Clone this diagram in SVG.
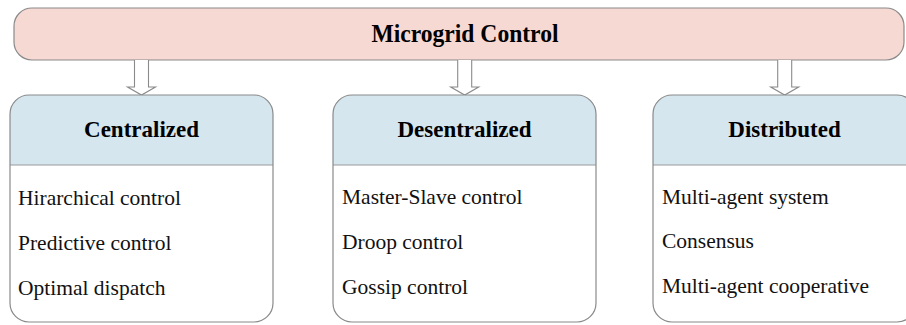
<svg xmlns="http://www.w3.org/2000/svg" width="906" height="325" viewBox="0 0 906 325">
<defs>
<style>
.bar{fill:#f7d9d4;stroke:#8a8a8a;stroke-width:1.2}
.hdr{fill:#d5e6ef}
.box{fill:none;stroke:#8a8a8a;stroke-width:1.2}
.div{stroke:#9a9a9a;stroke-width:1.2}
.arrow{fill:#ffffff;stroke:#8a8a8a;stroke-width:1.1;stroke-linejoin:miter}
.title{font-family:"Liberation Serif","Times New Roman",serif;font-weight:bold;font-size:26px;fill:#000;text-anchor:middle}
.head{font-family:"Liberation Serif","Times New Roman",serif;font-weight:bold;font-size:23px;fill:#000;text-anchor:middle}
.item{font-family:"Liberation Serif","Times New Roman",serif;font-size:21.5px;fill:#111}
</style>
<clipPath id="clipL"><rect x="10" y="95" width="263" height="227" rx="19"/></clipPath>
<clipPath id="clipM"><rect x="333" y="95" width="263" height="227" rx="19"/></clipPath>
<clipPath id="clipR"><rect x="653" y="95" width="263" height="227" rx="19"/></clipPath>
</defs>

<g id="microgrid-control">
<rect class="bar" x="14" y="8" width="890" height="52" rx="18"/>
<text class="title" x="465" y="42" textLength="187" lengthAdjust="spacingAndGlyphs">Microgrid Control</text>
</g>

<g id="connectors">
<path class="arrow" d="M134.5 60 V87 H127.5 L141.5 95 L155.5 87 H148.5 V60"/>
<path class="arrow" d="M457.7 60 V87 H450.7 L464.7 95 L478.7 87 H471.7 V60"/>
<path class="arrow" d="M777.7 60 V87 H770.7 L784.7 95 L798.7 87 H791.7 V60"/>
</g>

<g id="centralized">
<rect class="hdr" x="10" y="95" width="263" height="70" clip-path="url(#clipL)"/>
<line class="div" x1="10" y1="165" x2="273" y2="165"/>
<rect class="box" x="10" y="95" width="263" height="227" rx="19"/>
<text class="head" x="141.5" y="137">Centralized</text>
<text class="item" x="18" y="205">Hirarchical control</text>
<text class="item" x="18" y="250">Predictive control</text>
<text class="item" x="18" y="295">Optimal dispatch</text>
</g>

<g id="desentralized">
<rect class="hdr" x="333" y="95" width="263" height="70" clip-path="url(#clipM)"/>
<line class="div" x1="333" y1="165" x2="596" y2="165"/>
<rect class="box" x="333" y="95" width="263" height="227" rx="19"/>
<text class="head" x="464.5" y="137">Desentralized</text>
<text class="item" x="342" y="204">Master-Slave control</text>
<text class="item" x="342" y="249">Droop control</text>
<text class="item" x="342" y="294">Gossip control</text>
</g>

<g id="distributed">
<rect class="hdr" x="653" y="95" width="263" height="70" clip-path="url(#clipR)"/>
<line class="div" x1="653" y1="165" x2="916" y2="165"/>
<rect class="box" x="653" y="95" width="263" height="227" rx="19"/>
<text class="head" x="784.5" y="137">Distributed</text>
<text class="item" x="662" y="204">Multi-agent system</text>
<text class="item" x="662" y="248">Consensus</text>
<text class="item" x="662" y="293">Multi-agent cooperative</text>
</g>
</svg>
